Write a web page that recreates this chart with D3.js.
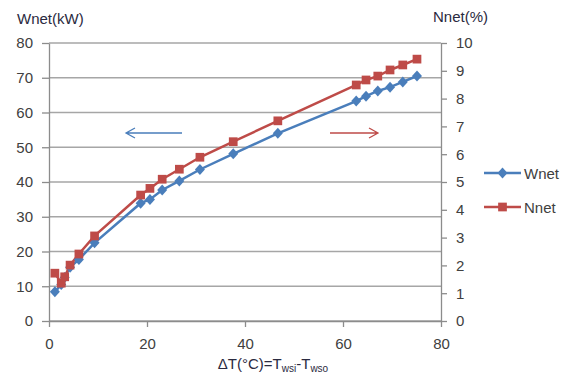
<!DOCTYPE html>
<html><head><meta charset="utf-8">
<script src="https://cdn.jsdelivr.net/npm/d3@7"></script>
<style>body{margin:0;background:#fff}svg{display:block}text{font-family:"Liberation Sans",Arial,sans-serif}</style>
</head><body>
<svg id="c" width="571" height="378"></svg>
<script>
const deltaT = [1.2, 2.5, 3.2, 4.3, 6.1, 9.3, 18.7, 20.6, 23.1, 26.6, 30.8, 37.6, 46.7, 62.7, 64.7, 67.1, 69.6, 72.2, 75.1];
const wnet = [8.4, 10.5, 12.5, 15.5, 17.7, 22.5, 33.9, 35.0, 37.7, 40.3, 43.6, 48.1, 54.0, 63.3, 64.7, 66.2, 67.3, 68.8, 70.5];
const nnet = [1.72, 1.36, 1.59, 2.01, 2.41, 3.06, 4.53, 4.77, 5.10, 5.46, 5.89, 6.45, 7.20, 8.49, 8.67, 8.81, 9.03, 9.21, 9.42];
const xTicks = [0, 20, 40, 60, 80];
const yLeftTicks = [0, 10, 20, 30, 40, 50, 60, 70, 80];
const yRightTicks = [0, 1, 2, 3, 4, 5, 6, 7, 8, 9, 10];
const seriesNames = ["Wnet", "Nnet"];
const colors = ["#4a7ebb", "#be4b48"];

const svg = d3.select("#c");
const L = 49, R = 441, T = 43, B = 321;
const x = d3.scaleLinear().domain([0, 80]).range([L, R]);
const yL = d3.scaleLinear().domain([0, 80]).range([B, T]);
const yR = d3.scaleLinear().domain([0, 10]).range([B, T]);
const grid = "#a6a6a6", axisC = "#8c8c8c", txt = "#404040";

// gridlines
svg.append("g").selectAll("line").data(yLeftTicks).join("line")
  .attr("x1", L).attr("x2", R).attr("y1", d => yL(d)).attr("y2", d => yL(d))
  .attr("stroke", grid).attr("stroke-width", 1.3);

// left axis
const gL = svg.append("g").attr("transform", `translate(${L},0)`)
  .call(d3.axisLeft(yL).tickValues(yLeftTicks).tickSize(7).tickPadding(9).tickSizeOuter(0));
// right axis
const gR = svg.append("g").attr("transform", `translate(${R},0)`)
  .call(d3.axisRight(yR).tickValues(yRightTicks).tickSize(6).tickPadding(9).tickSizeOuter(0));
// bottom axis
const gB = svg.append("g").attr("transform", `translate(0,${B})`)
  .call(d3.axisBottom(x).tickValues(xTicks).tickSize(6).tickPadding(11).tickSizeOuter(0));
[gL, gR, gB].forEach(g => {
  g.select(".domain").attr("stroke", axisC).attr("stroke-width", 1.3);
  g.selectAll(".tick line").attr("stroke", axisC).attr("stroke-width", 1.3);
  g.selectAll(".tick text").attr("fill", txt).style("font-size", "15px");
});

// axis titles
svg.append("text").attr("x", 17).attr("y", 24).attr("fill", "#2a2a40").style("font-size", "15px").text("Wnet(kW)");
svg.append("text").attr("x", 433).attr("y", 22).attr("fill", "#2a2a40").style("font-size", "15px").text("Nnet(%)");
const xt = svg.append("text").attr("x", 273).attr("y", 369).attr("text-anchor", "middle")
  .attr("fill", "#2a2a40").style("font-size", "15px");
xt.append("tspan").text("ΔT(°C)=T");
xt.append("tspan").attr("font-size", "10px").attr("dy", 3).text("wsi");
xt.append("tspan").attr("dy", -3).text("-T");
xt.append("tspan").attr("font-size", "10px").attr("dy", 3).text("wso");

// lines
const lineW = d3.line().x((d, i) => x(deltaT[i])).y(d => yL(d));
const lineN = d3.line().x((d, i) => x(deltaT[i])).y(d => yR(d));
svg.append("path").datum(wnet).attr("d", lineW).attr("fill", "none").attr("stroke", colors[0]).attr("stroke-width", 2.5);
svg.append("path").datum(nnet).attr("d", lineN).attr("fill", "none").attr("stroke", colors[1]).attr("stroke-width", 2.5);

const excelDiamond = { draw(ctx, size) { const w = 5, h = 5.5; ctx.moveTo(0, -h); ctx.lineTo(w, 0); ctx.lineTo(0, h); ctx.lineTo(-w, 0); ctx.closePath(); } };
const diamond = d3.symbol().type(excelDiamond).size(1);
const square = d3.symbol().type(d3.symbolSquare).size(76);
svg.append("g").selectAll("path").data(wnet).join("path")
  .attr("d", diamond).attr("transform", (d, i) => `translate(${x(deltaT[i])},${yL(d)})`).attr("fill", colors[0]);
svg.append("g").selectAll("path").data(nnet).join("path")
  .attr("d", square).attr("transform", (d, i) => `translate(${x(deltaT[i])},${yR(d)})`).attr("fill", colors[1]);

// arrows
function arrow(x1, x2, y, c) {
  const dir = Math.sign(x2 - x1);
  svg.append("path").attr("d", `M${x1},${y}L${x2},${y}M${x2 - dir * 9},${y - 5}L${x2},${y}L${x2 - dir * 9},${y + 5}`)
    .attr("fill", "none").attr("stroke", c).attr("stroke-width", 1.3);
}
arrow(182, 126, 133, colors[0]);
arrow(330, 378, 133, colors[1]);

// legend
const leg = svg.append("g");
[173, 207].forEach((ly, i) => {
  leg.append("line").attr("x1", 484).attr("x2", 521).attr("y1", ly).attr("y2", ly).attr("stroke", colors[i]).attr("stroke-width", 2.5);
  leg.append("path").attr("d", i === 0 ? diamond : square).attr("transform", `translate(502.5,${ly})`).attr("fill", colors[i]);
  leg.append("text").attr("x", 524).attr("y", ly + 5.5).attr("fill", txt).style("font-size", "15px").text(seriesNames[i]);
});
</script>
</body></html>
